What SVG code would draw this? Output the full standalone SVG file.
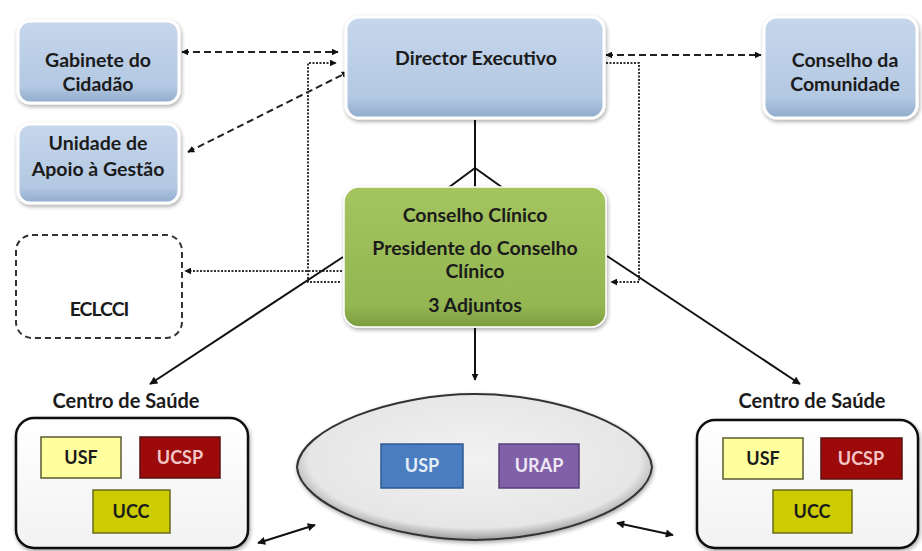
<svg xmlns="http://www.w3.org/2000/svg" width="922" height="551" viewBox="0 0 922 551">
<defs>
<linearGradient id="gBlue" x1="0" y1="0" x2="0" y2="1">
<stop offset="0" stop-color="#c6d7ec"/><stop offset="0.8" stop-color="#b3c8e2"/><stop offset="1" stop-color="#8faacb"/>
</linearGradient>
<linearGradient id="gGreen" x1="0" y1="0" x2="0" y2="1">
<stop offset="0" stop-color="#a4c45e"/><stop offset="0.85" stop-color="#93b652"/><stop offset="1" stop-color="#7c9c3e"/>
</linearGradient>
<radialGradient id="gEll" cx="0.5" cy="0.45" r="0.55">
<stop offset="0" stop-color="#f2f2f2"/><stop offset="0.85" stop-color="#e6e6e6"/><stop offset="1" stop-color="#9a9a9a"/>
</radialGradient>
<linearGradient id="gCs" x1="0" y1="0" x2="0" y2="1">
<stop offset="0" stop-color="#ffffff"/><stop offset="1" stop-color="#f2f2f2"/>
</linearGradient>
<filter id="sh" x="-10%" y="-10%" width="125%" height="130%">
<feGaussianBlur in="SourceAlpha" stdDeviation="2"/><feOffset dx="1" dy="2"/>
<feComponentTransfer><feFuncA type="linear" slope="0.35"/></feComponentTransfer>
<feMerge><feMergeNode/><feMergeNode in="SourceGraphic"/></feMerge>
</filter>
<marker id="ar" viewBox="0 0 10 10" refX="9" refY="5" markerWidth="7" markerHeight="7" orient="auto-start-reverse" markerUnits="userSpaceOnUse">
<path d="M0,0 L10,5 L0,10 z" fill="#111"/>
</marker>
<marker id="as" viewBox="0 0 10 10" refX="9" refY="5" markerWidth="9" markerHeight="8" orient="auto-start-reverse" markerUnits="userSpaceOnUse">
<path d="M0,0 L10,5 L0,10 z" fill="#111"/>
</marker>
<style>
text{font-family:Lato,"Open Sans","Liberation Sans",sans-serif;font-weight:bold;fill:#1b1b1b;text-anchor:middle}
.t{font-size:19.5px}
.c{font-size:20px}
.bx{fill:url(#gBlue);stroke:#ffffff;stroke-width:3;filter:url(#sh)}
.dash{fill:none;stroke:#222;stroke-width:2;stroke-dasharray:7,4}
.dot{fill:none;stroke:#333;stroke-width:2;stroke-dasharray:2,1.5}
.sol{fill:none;stroke:#111;stroke-width:2}
.u{font-size:18px}
</style>
</defs>
<rect width="922" height="551" fill="#ffffff"/>

<g id="connectors">
<path class="dash" d="M182,52 L338,52" marker-start="url(#ar)" marker-end="url(#ar)"/>
<path class="dash" d="M188,152 L348,72" marker-start="url(#ar)" marker-end="url(#ar)"/>
<path class="dash" d="M606,55 L761,55" marker-start="url(#ar)" marker-end="url(#ar)"/>
<path class="dot" d="M340,282 L308,282 L308,63 L336,63" marker-end="url(#ar)"/>
<path class="dot" d="M606,63 L639,63 L639,282 L611,282" marker-end="url(#ar)"/>
<path class="dot" d="M342,271 L185,271" marker-end="url(#ar)"/>
<path class="sol" d="M475,120 L475,188 M475,168 L448,188 M475,168 L503,188"/>
<path class="sol" d="M475,328 L475,380" marker-end="url(#ar)"/>
<path class="sol" d="M343,257 L150,384" marker-end="url(#as)"/>
<path class="sol" d="M607,256 L800,384" marker-end="url(#as)"/>
<path class="sol" d="M258,543 L315,525" marker-start="url(#as)" marker-end="url(#as)"/>
<path class="sol" d="M617,523 L673,535" marker-start="url(#as)" marker-end="url(#as)"/>
</g>

<g id="gabinete">
<rect class="bx" x="18" y="21" width="161" height="82" rx="12"/>
<text class="t" x="98" y="67">Gabinete do</text>
<text class="t" x="98" y="91">Cidadão</text>
</g>
<g id="unidade">
<rect class="bx" x="18" y="124" width="161" height="79" rx="12"/>
<text class="t" x="98" y="150">Unidade de</text>
<text class="t" x="98" y="176">Apoio à Gestão</text>
</g>
<g id="director">
<rect class="bx" x="346" y="17" width="258" height="101" rx="13"/>
<text class="t" x="476" y="65">Director Executivo</text>
</g>
<g id="comunidade">
<rect class="bx" x="764" y="17" width="153" height="101" rx="13"/>
<text class="t" x="845" y="67">Conselho da</text>
<text class="t" x="845" y="91">Comunidade</text>
</g>
<g id="conselho-clinico">
<rect x="344" y="187" width="262" height="140" rx="15" fill="url(#gGreen)" stroke="#ffffff" stroke-width="1.5" filter="url(#sh)"/>
<text class="t" x="475" y="222">Conselho Clínico</text>
<text class="t" x="475" y="255">Presidente do Conselho</text>
<text class="t" x="475" y="278">Clínico</text>
<text class="t" x="475" y="312">3 Adjuntos</text>
</g>
<g id="eclcci">
<rect x="16" y="235" width="166" height="103" rx="16" fill="#ffffff" stroke="#333" stroke-width="2" stroke-dasharray="6,4"/>
<text class="t" x="99" y="316" style="letter-spacing:-1px">ECLCCI</text>
</g>

<g id="centro-esq">
<text class="c" x="126" y="408">Centro de Saúde</text>
<rect x="16" y="418" width="232" height="130" rx="18" fill="url(#gCs)" stroke="#111" stroke-width="2.5" filter="url(#sh)"/>
<rect x="41" y="437" width="80" height="41" fill="#ffff9e" stroke="#5a5a30" stroke-width="1.5"/>
<text class="u" x="81" y="464">USF</text>
<rect x="140" y="437" width="80" height="41" fill="#9c0a0a" stroke="#5a1010" stroke-width="1.5"/>
<text class="u" x="180" y="464" style="fill:#f4c6c6">UCSP</text>
<rect x="93" y="490" width="77" height="43" fill="#cccc00" stroke="#6a6a20" stroke-width="1.5"/>
<text class="u" x="131" y="518">UCC</text>
</g>

<g id="ellipse">
<path d="M297,467 C300,428 392,394 475,394 C560,394 649,428 652,467 C649,506 560,540 475,540 C392,540 300,506 297,467 Z" fill="url(#gEll)" stroke="#333" stroke-width="2" filter="url(#sh)"/>
<rect x="381" y="444" width="82" height="44" fill="#4a7ec0" stroke="#2f5a90" stroke-width="1.5"/>
<text class="u" x="422" y="472" style="fill:#e6eef8">USP</text>
<rect x="499" y="444" width="80" height="44" fill="#8060a6" stroke="#5a4078" stroke-width="1.5"/>
<text class="u" x="539" y="472" style="fill:#eee6f4">URAP</text>
</g>

<g id="centro-dir">
<text class="c" x="812" y="408">Centro de Saúde</text>
<rect x="697" y="420" width="221" height="128" rx="18" fill="url(#gCs)" stroke="#111" stroke-width="2.5" filter="url(#sh)"/>
<rect x="723" y="438" width="80" height="41" fill="#ffff9e" stroke="#5a5a30" stroke-width="1.5"/>
<text class="u" x="763" y="465">USF</text>
<rect x="821" y="438" width="81" height="41" fill="#9c0a0a" stroke="#5a1010" stroke-width="1.5"/>
<text class="u" x="861" y="465" style="fill:#f4c6c6">UCSP</text>
<rect x="773" y="490" width="79" height="43" fill="#cccc00" stroke="#6a6a20" stroke-width="1.5"/>
<text class="u" x="812" y="518">UCC</text>
</g>
</svg>
